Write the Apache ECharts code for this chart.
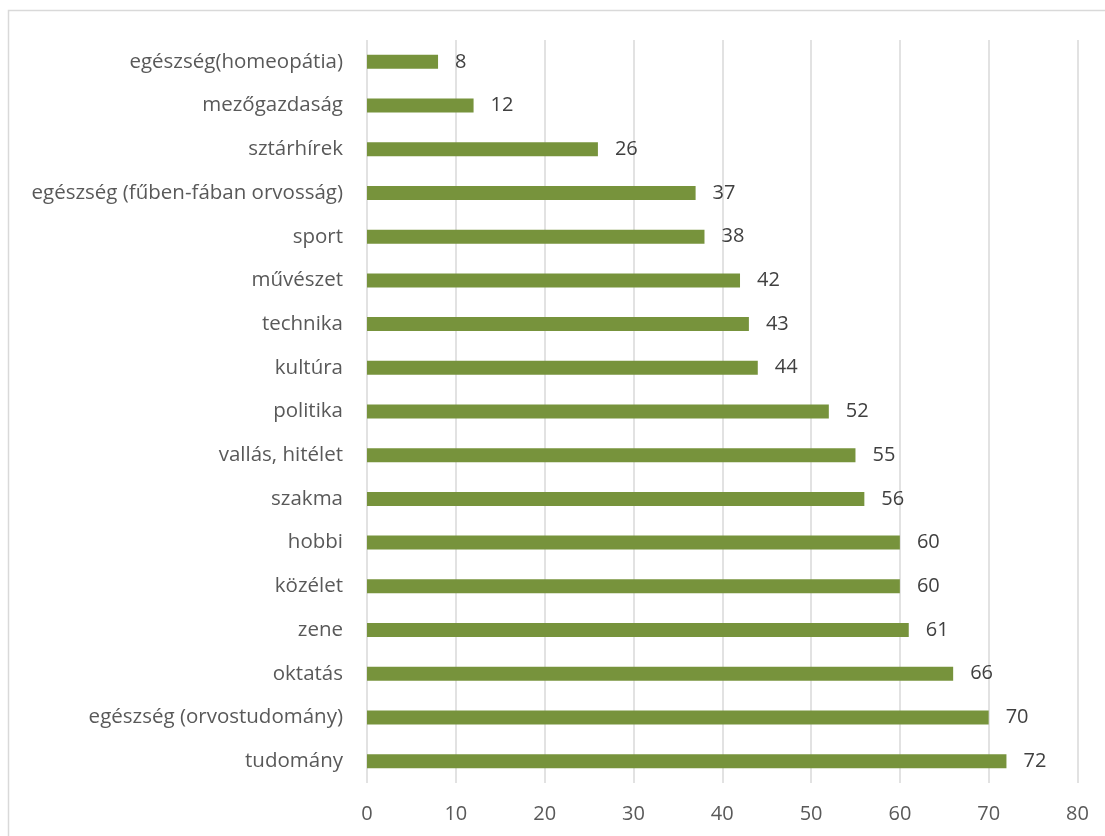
<!DOCTYPE html>
<html>
<head>
<meta charset="utf-8">
<script src="https://cdn.jsdelivr.net/npm/echarts@6/dist/echarts.min.js"></script>
<style>
  html, body { margin: 0; padding: 0; background: #ffffff; }
  #chart { width: 1105px; height: 836px; }
</style>
</head>
<body>
<div id="chart"></div>
<script>
// Topics, listed bottom-to-top as they appear on the category axis
const categories = [
  'tudomány',
  'egészség (orvostudomány)',
  'oktatás',
  'zene',
  'közélet',
  'hobbi',
  'szakma',
  'vallás, hitélet',
  'politika',
  'kultúra',
  'technika',
  'művészet',
  'sport',
  'egészség (fűben-fában orvosság)',
  'sztárhírek',
  'mezőgazdaság',
  'egészség(homeopátia)'
];

const values = [72, 70, 66, 61, 60, 60, 56, 55, 52, 44, 43, 42, 38, 37, 26, 12, 8];

const xTicks = { min: 0, max: 80, interval: 10 };

const FONT = '"Open Sans", "Noto Sans", sans-serif';

const chart = echarts.init(document.getElementById('chart'), null, { renderer: 'canvas' });

chart.setOption({
  animation: false,
  backgroundColor: '#ffffff',
  // light frame around the chart area (right and bottom edges run off the page)
  graphic: [{
    type: 'rect',
    shape: { x: 8.5, y: 10.5, width: 1200, height: 900 },
    style: { fill: 'none', stroke: '#d9d9d9', lineWidth: 1.5 },
    silent: true
  }],
  grid: { left: 367, right: 27.5, top: 40, bottom: 53, containLabel: false, outerBoundsMode: 'none' },
  xAxis: {
    type: 'value',
    min: xTicks.min,
    max: xTicks.max,
    interval: xTicks.interval,
    axisLine: { show: false },
    axisTick: { show: false },
    axisLabel: {
      color: '#595959',
      fontSize: 20,
      fontFamily: FONT,
      margin: 21,
      hideOverlap: false
    },
    splitLine: { show: true, lineStyle: { color: '#d9d9d9', width: 1.5 } }
  },
  yAxis: {
    type: 'category',
    data: categories,
    axisLine: { show: false },
    axisTick: { show: false },
    axisLabel: { color: '#595959', fontSize: 20.5, fontFamily: FONT, margin: 24 },
    splitLine: { show: false }
  },
  series: [{
    type: 'bar',
    data: values,
    barWidth: 14,
    itemStyle: { color: '#77933c' },
    label: {
      show: true,
      position: 'right',
      distance: 17,
      color: '#404040',
      fontSize: 20,
      fontFamily: FONT
    }
  }]
});
</script>
</body>
</html>
